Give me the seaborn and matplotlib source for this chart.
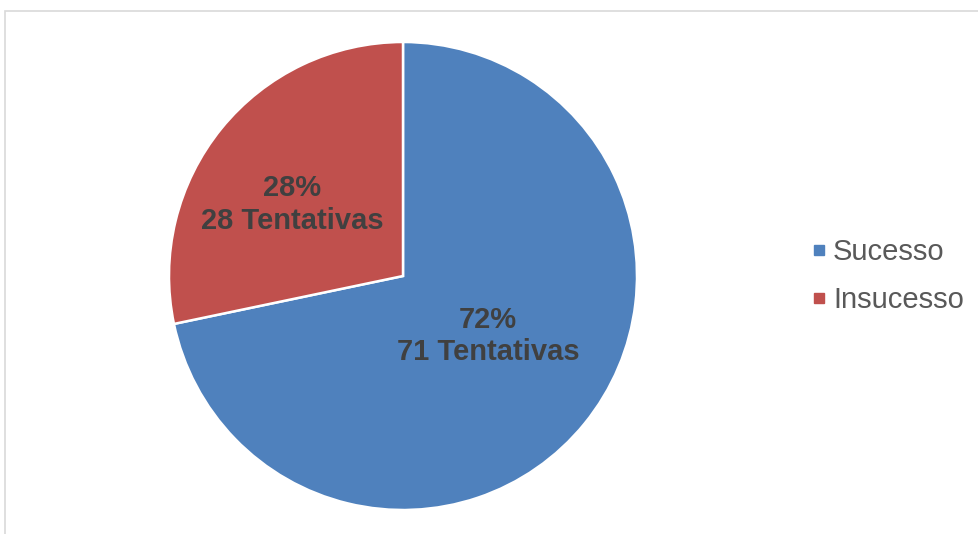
import matplotlib
matplotlib.use("Agg")
import matplotlib.pyplot as plt
from matplotlib.lines import Line2D
from matplotlib.patches import Rectangle
import seaborn as sns

# Outcome of the attempts
categories = ["Sucesso", "Insucesso"]
attempts = [71, 28]
unit_label = "Tentativas"

sns.set_theme(style="white")
plt.rcParams["font.family"] = ["Liberation Sans", "DejaVu Sans"]

colors = sns.color_palette(["#4F81BD", "#C0504D"])

fig = plt.figure(figsize=(9.79, 5.34), dpi=100)
fig.patch.set_facecolor("white")

# Light frame around the chart area (runs past the right and bottom edges)
fig.patches.append(Rectangle((5 / 979, -0.05), 1.2, 1 - 11 / 534 + 0.05,
                             transform=fig.transFigure, fill=False,
                             edgecolor="#D9D9D9", linewidth=1.2, zorder=0))

# Pie axes sized so the pie fills it exactly
ax = fig.add_axes([169 / 979, (534 - 510) / 534, 468 / 979, 468 / 534])
wedges, _ = ax.pie(attempts, colors=colors, startangle=90, counterclock=False,
                   radius=1.0,
                   wedgeprops=dict(edgecolor="white", linewidth=1.8))
ax.set_xlim(-1, 1)
ax.set_ylim(-1, 1)
ax.set_aspect("equal")
ax.axis("off")

# Data labels: percentage and count of each slice
total = sum(attempts)
label_anchor = [(0.363, -0.256), (-0.474, 0.306)]
for n, (x, y) in zip(attempts, label_anchor):
    pct = round(100 * n / total)
    ax.text(x, y, f"{pct}%\n{n} {unit_label}", ha="center", va="center",
            fontsize=21, fontweight="bold", color="#404040", linespacing=1.2)

handles = [Line2D([0], [0], marker="s", linestyle="none", markersize=7.3,
                  markerfacecolor=c, markeredgecolor=c) for c in colors]
leg = fig.legend(handles, categories, loc="upper left",
                 bbox_to_anchor=(810 / 979, 1 - 238 / 534), frameon=False,
                 fontsize=21, labelspacing=0.68, handlelength=0.6,
                 handletextpad=0.19, borderpad=0, borderaxespad=0)
for t in leg.get_texts():
    t.set_color("#595959")

fig.savefig("out.png", dpi=100, facecolor="white")
